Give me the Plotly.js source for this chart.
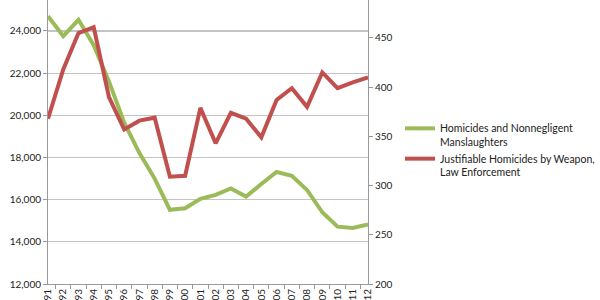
<!DOCTYPE html>
<html>
<head>
<meta charset="utf-8">
<script src="https://cdn.plot.ly/plotly-3.0.1.min.js"></script>
<style>html,body{margin:0;padding:0;background:#fff;}#chart{width:600px;height:300px;}</style>
</head>
<body>
<div id="chart"></div>
<script>
const years = ["1991","1992","1993","1994","1995","1996","1997","1998","1999","2000","2001","2002","2003","2004","2005","2006","2007","2008","2009","2010","2011","2012"];
const homicides = [24700, 23760, 24530, 23330, 21610, 19650, 18210, 17000, 15520, 15590, 16040, 16230, 16530, 16150, 16740, 17310, 17130, 16460, 15400, 14720, 14660, 14830];
const justifiable = [368, 418, 455, 461, 390, 357, 366, 369, 309, 310, 379, 343, 374, 368, 349, 387, 399, 380, 415, 399, 405, 410];
const name1 = "Homicides and Nonnegligent<br>Manslaughters";
const name2 = "Justifiable Homicides by Weapon,<br>Law Enforcement";
const leftTicks = [12000, 14000, 16000, 18000, 20000, 22000, 24000, 26000];
const rightTicks = [200, 250, 300, 350, 400, 450, 500];

const traces = [
  {x: years, y: homicides, name: name1, type: 'scatter', mode: 'lines',
   line: {color: '#9BBB59', width: 4}, yaxis: 'y'},
  {x: years, y: justifiable, name: name2, type: 'scatter', mode: 'lines',
   line: {color: '#C0504D', width: 4}, yaxis: 'y2'}
];

const font = {family: 'Lato, "Liberation Sans", sans-serif', size: 10, color: '#222'};
const layout = {
  width: 600, height: 300,
  margin: {l: 48, r: 228, t: 0, b: 16, pad: 0},
  paper_bgcolor: '#fff', plot_bgcolor: '#fff',
  font: font,
  showlegend: true,
  legend: {x: 1.10, xanchor: 'left', y: 0.47, yanchor: 'middle', valign: 'top',
           font: {family: 'Lato, "Liberation Sans", sans-serif', size: 10.5, color: '#222'},
           itemwidth: 30, bgcolor: 'rgba(0,0,0,0)'},
  xaxis: {type: 'category', tickangle: -90, ticks: 'outside', tickson: 'boundaries',
          ticklen: 4, tickcolor: '#999', showline: true, linecolor: '#999', linewidth: 1,
          showgrid: false, tickfont: {size: 10, color: '#222'}, fixedrange: true, automargin: false},
  yaxis: {range: [12000, 25470], tickvals: leftTicks, ticktext: leftTicks.map(v => v.toLocaleString('en-US')),
          showgrid: true, gridcolor: '#c4c4c4', gridwidth: 1.2, zeroline: false,
          showline: true, linecolor: '#999', linewidth: 1, ticks: 'outside', ticklen: 4, tickcolor: '#999',
          tickfont: {size: 10, color: '#222'}, automargin: false},
  yaxis2: {overlaying: 'y', side: 'right', range: [200, 488.6], tickvals: rightTicks,
           showgrid: false, zeroline: false, showline: true, linecolor: '#999', linewidth: 1,
           ticks: 'outside', ticklen: 4, tickcolor: '#999', tickfont: {size: 10, color: '#222'}, automargin: false}
};

Plotly.newPlot('chart', traces, layout, {displayModeBar: false, staticPlot: true});
</script>
</body>
</html>
